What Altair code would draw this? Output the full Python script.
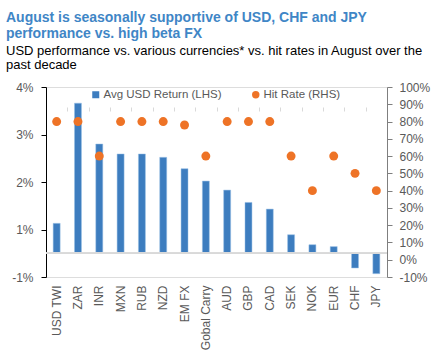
import altair as alt
import pandas as pd

categories = ["USD TWI", "ZAR", "INR", "MXN", "RUB", "NZD", "EM FX", "Gobal Carry",
              "AUD", "GBP", "CAD", "SEK", "NOK", "EUR", "CHF", "JPY"]
avg_return = [0.63, 3.16, 2.30, 2.09, 2.09, 2.02, 1.78, 1.52,
              1.33, 1.07, 0.93, 0.39, 0.18, 0.14, -0.31, -0.43]
hit_rate = [80, 80, 60, 80, 80, 80, 78, 60, 80, 80, 80, 60, 40, 60, 50, 40]

left_ticks = [-0.5, 0.5, 1.5, 2.5, 3.5]
left_labels = ["-1%", "1%", "2%", "3%", "4%"]
right_ticks = [-10, 0, 10, 20, 30, 40, 50, 60, 70, 80, 90, 100]

series_bar = "Avg USD Return (LHS)"
series_dot = "Hit Rate (RHS)"

BLUE = "#3D7DBF"
ORANGE = "#EE7326"
TXT = "#595959"
FONT = "Liberation Sans"

df = pd.DataFrame({"cat": categories, "ret": avg_return, "hit": hit_rate,
                   "s1": series_bar, "s2": series_dot})

left_expr = " : ".join(
    [f"datum.value == {v} ? '{l}'" for v, l in zip(left_ticks, left_labels)] + ["''"])

xscale = alt.Scale(domain=categories, paddingInner=0, paddingOuter=0)

base = alt.Chart(df)

bars = base.mark_bar(size=7, stroke="#9DC3E6", strokeWidth=0.5).encode(
    x=alt.X("cat:N", sort=categories, scale=xscale, title=None,
            axis=alt.Axis(labelAngle=-90, labelAlign="right", labelBaseline="middle",
                          labelPadding=8, ticks=False, domain=False,
                          labelColor=TXT, labelFontSize=12, labelFont=FONT)),
    y=alt.Y("ret:Q", scale=alt.Scale(domain=[-0.5, 3.5], nice=False, zero=False),
            title=None,
            axis=alt.Axis(values=left_ticks, labelExpr=left_expr, grid=False,
                          domainColor="#000000", tickColor="#000000", tickSize=5,
                          labelPadding=8, labelColor=TXT, labelFontSize=12,
                          labelFont=FONT)),
    color=alt.Color("s1:N", scale=alt.Scale(range=[BLUE]),
                    legend=alt.Legend(orient="none", legendX=44, legendY=2, title=None,
                                      symbolType="square", symbolSize=49,
                                      symbolStrokeWidth=0, labelOffset=2,
                                      labelFontSize=11.5, labelColor=TXT,
                                      labelFont=FONT, padding=0)),
)

zero_line = base.mark_rule(color="#D9D9D9", strokeWidth=1).encode(y=alt.datum(0))

tick_layer = base.mark_point(opacity=0).encode(
    x=alt.X("cat:N", sort=categories, scale=xscale, title=None,
            axis=alt.Axis(labels=False, domain=False, ticks=True, tickBand="extent",
                          tickColor="#D9D9D9", tickSize=4, offset=-24)),
)

left = alt.layer(bars, zero_line, tick_layer).resolve_axis(x="independent")

dots = base.mark_circle(size=80, opacity=1).encode(
    x=alt.X("cat:N", sort=categories, scale=xscale, axis=None),
    y=alt.Y("hit:Q", scale=alt.Scale(domain=[-10, 100], nice=False), title=None,
            axis=alt.Axis(orient="right", values=right_ticks,
                          labelExpr="datum.value + '%'", grid=False,
                          domainColor="#7F7F7F", tickColor="#7F7F7F", tickSize=5,
                          labelPadding=7, labelColor=TXT, labelFontSize=12,
                          labelFont=FONT)),
    fill=alt.Fill("s2:N", scale=alt.Scale(range=[ORANGE]),
                  legend=alt.Legend(orient="none", legendX=204, legendY=2, title=None,
                                    symbolType="circle", symbolSize=55,
                                    symbolStrokeWidth=0, labelOffset=2,
                                    labelFontSize=11.5, labelColor=TXT,
                                    labelFont=FONT, padding=0)),
)

chart = alt.layer(left, dots).resolve_scale(y="independent", color="independent",
                                            fill="independent").properties(
    width=341,
    height=190,
    padding={"left": 46, "top": 87, "right": 52, "bottom": 75},
    autosize=alt.AutoSizeParams(type="none"),
    title=alt.TitleParams(
        text=["August is seasonally supportive of USD, CHF and JPY",
              "performance vs. high beta FX"],
        subtitle=["USD performance vs. various currencies* vs. hit rates in August over the",
                  "past decade"],
        anchor="start", frame="group", dx=-40, offset=9,
        font=FONT, fontSize=14, fontWeight="bold", color="#3F86C6", lineHeight=16.7,
        subtitleFont=FONT, subtitleFontSize=13, subtitleColor="#000000",
        subtitleLineHeight=14.5, subtitlePadding=3,
    ),
).configure_view(stroke=None).configure(background="white")

chart.save("out.html", embed_options={"renderer": "svg", "actions": False})
